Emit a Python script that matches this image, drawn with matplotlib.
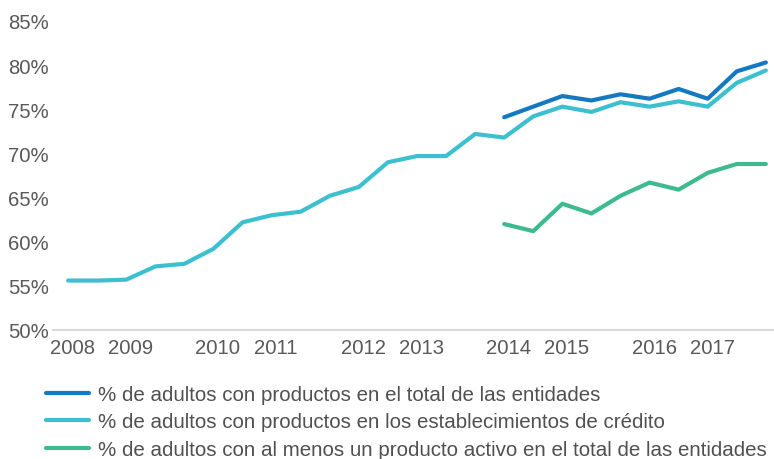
import numpy as np
import matplotlib.pyplot as plt
import matplotlib.transforms as mtransforms

plt.rcParams['font.family'] = ['Liberation Sans', 'DejaVu Sans']

# 25 periods; only some carry a year label
year_pos = [0, 2, 5, 7, 10, 12, 15, 17, 20, 22]
year_labels = ['2008', '2009', '2010', '2011', '2012', '2013', '2014', '2015', '2016', '2017']
n = 25

total_entidades = [np.nan] * 15 + [74.1, 75.3, 76.5, 76.0, 76.7, 76.2, 77.3, 76.2, 79.3, 80.3]
est_credito = [55.6, 55.6, 55.7, 57.2, 57.5, 59.2, 62.2, 63.0, 63.4, 65.2, 66.2, 69.0,
               69.7, 69.7, 72.2, 71.8, 74.2, 75.3, 74.7, 75.8, 75.3, 75.9, 75.3, 78.0, 79.4]
producto_activo = [np.nan] * 15 + [62.0, 61.2, 64.3, 63.2, 65.2, 66.7, 65.9, 67.8, 68.8, 68.8]

labels = ['% de adultos con productos en el total de las entidades',
          '% de adultos con productos en los establecimientos de crédito',
          '% de adultos con al menos un producto activo en el total de las entidades']
colors = ['#1479c0', '#3cc0d0', '#3dba90']

fig = plt.figure(figsize=(7.74, 4.6), dpi=100)
ax = fig.add_axes([53 / 774, (460 - 331) / 460, 1 - 53 / 774, (331 - 22) / 460])

x = np.arange(n)
for ys, c, lab in zip([total_entidades, est_credito, producto_activo], colors, labels):
    ax.plot(x, ys, color=c, lw=3, solid_capstyle='round', solid_joinstyle='round', label=lab)

ax.set_xlim(-0.52, 24.28)
ax.set_ylim(50, 85)
ax.set_yticks(np.arange(50, 86, 5))
ax.set_yticklabels([f'{v}%' for v in range(50, 86, 5)])
ax.set_xticks(year_pos)
ax.set_xticklabels(year_labels)
ax.tick_params(length=0, labelsize=14.6, labelcolor='#595959')
ax.tick_params(axis='y', pad=3)
ax.tick_params(axis='x', pad=6)
shift = mtransforms.ScaledTranslation(4.5 / 100, 0, fig.dpi_scale_trans)
for t in ax.get_xticklabels():
    t.set_transform(t.get_transform() + shift)

for s in ['top', 'right', 'left']:
    ax.spines[s].set_visible(False)
ax.spines['bottom'].set_color('#d9d9d9')
ax.spines['bottom'].set_linewidth(1.5)

fig.legend(loc='upper left', bbox_to_anchor=(46 / 774, 1 - 386 / 460), frameon=False,
           fontsize=14.8, handlelength=2.09, handletextpad=0.44, labelspacing=0.41,
           borderpad=0, borderaxespad=0, labelcolor='#505050')

fig.savefig('out.png', dpi=100)
